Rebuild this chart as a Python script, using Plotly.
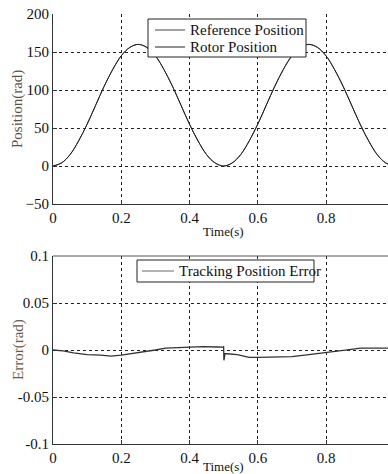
import plotly.graph_objects as go

# ---- data ----
t_pos = [0.0, 0.025, 0.05, 0.075, 0.1, 0.125, 0.15, 0.175, 0.2, 0.225, 0.25,
         0.275, 0.3, 0.325, 0.35, 0.375, 0.4, 0.425, 0.45, 0.475, 0.5,
         0.525, 0.55, 0.575, 0.6, 0.625, 0.65, 0.675, 0.7, 0.725, 0.75,
         0.775, 0.8, 0.825, 0.85, 0.875, 0.9, 0.925, 0.95, 0.975, 1.0]
ref_pos = [0, 4, 15, 33, 55, 80, 105, 127, 145, 156, 160,
           156, 145, 127, 105, 80, 55, 33, 15, 4, 0,
           4, 15, 33, 55, 80, 105, 127, 145, 156, 160,
           156, 145, 127, 105, 80, 55, 33, 15, 4, 0]
rotor_pos = [0, 4, 15, 33, 55, 80, 105, 127, 145, 156, 160,
             156, 145, 127, 105, 80, 55, 33, 15, 4, 0,
             4, 15, 33, 55, 80, 105, 127, 145, 156, 160,
             156, 145, 127, 105, 80, 55, 33, 15, 4, 0]

t_err = [0.0, 0.03, 0.06, 0.1, 0.14, 0.17, 0.2, 0.25, 0.3, 0.33, 0.37, 0.4,
         0.44, 0.48, 0.499, 0.5, 0.5008, 0.5015, 0.502, 0.504, 0.51, 0.54,
         0.575, 0.6, 0.65, 0.7, 0.75, 0.8, 0.85, 0.88, 0.9, 0.95, 1.0]
err = [0.0, -0.001, -0.003, -0.005, -0.0055, -0.0065, -0.0055, -0.003, 0.0, 0.002,
       0.0028, 0.0035, 0.0036, 0.0032, 0.003, 0.004, -0.011, 0.002, -0.009, -0.004,
       -0.004, -0.005, -0.0078, -0.0078, -0.0075, -0.007, -0.005, -0.003, -0.0005,
       0.001, 0.002, 0.002, 0.002]

series_names_top = ["Reference Position", "Rotor Position"]
series_name_bottom = "Tracking Position Error"

x_ticks = [0, 0.2, 0.4, 0.6, 0.8]
x_ticklabels = ["0", "0.2", "0.4", "0.6", "0.8"]
y1_ticks = [-50, 0, 50, 100, 150, 200]
y2_ticks = [-0.1, -0.05, 0, 0.05, 0.1]
y2_ticklabels = ["-0.1", "-0.05", "0", "0.05", "0.1"]

FONT = "Liberation Serif, Times New Roman, serif"
FS = 15
W, H = 388, 474
ML, MR, MT, MB = 53, 0, 14, 30
plot_w = W - ML - MR
plot_h = H - MT - MB
top_dom = [(H - MB - 204) / plot_h, 1.0]
bot_dom = [0.0, (H - MB - 256) / plot_h]
PX_PER_UNIT = 341.25
x_end = plot_w / PX_PER_UNIT


def P(px, py):
    """pixel position -> paper coordinates"""
    return (px - ML) / plot_w, (H - MB - py) / plot_h


fig = go.Figure()
fig.add_trace(go.Scatter(x=t_pos, y=ref_pos, mode="lines", name=series_names_top[0],
                         line=dict(color="#444444", width=1, shape="spline"),
                         xaxis="x", yaxis="y", showlegend=False))
fig.add_trace(go.Scatter(x=t_pos, y=rotor_pos, mode="lines", name=series_names_top[1],
                         line=dict(color="#222222", width=1, shape="spline"),
                         xaxis="x", yaxis="y", showlegend=False))
fig.add_trace(go.Scatter(x=t_err, y=err, mode="lines", name=series_name_bottom,
                         line=dict(color="#333333", width=1.3),
                         xaxis="x2", yaxis="y2", showlegend=False))

axis_common = dict(showline=True, linecolor="#333333", linewidth=1,
                   showgrid=True, gridcolor="#222222", gridwidth=1, griddash="3px,3px",
                   zeroline=False, ticks="inside", ticklen=4, tickcolor="#333333",
                   tickfont=dict(family=FONT, size=FS, color="#111111"))

fig.update_layout(
    width=W, height=H, margin=dict(l=ML, r=MR, t=MT, b=MB),
    paper_bgcolor="white", plot_bgcolor="white",
    font=dict(family=FONT, size=FS, color="#111111"),
    xaxis=dict(domain=[0, 1], range=[0, x_end], tickvals=x_ticks, ticktext=x_ticklabels,
               anchor="y", **axis_common),
    yaxis=dict(domain=top_dom, range=[-50, 200], tickvals=y1_ticks, anchor="x",
               **axis_common),
    xaxis2=dict(domain=[0, 1], range=[0, x_end], tickvals=x_ticks, ticktext=x_ticklabels,
                anchor="y2", **axis_common),
    yaxis2=dict(domain=bot_dom, range=[-0.1, 0.1], tickvals=y2_ticks, ticktext=y2_ticklabels,
                anchor="x2", **axis_common),
    showlegend=False,
)

# solid top border of bottom panel
fig.add_shape(type="line", xref="x2 domain", yref="y2 domain", x0=0, x1=1, y0=1, y1=1,
              line=dict(color="#555555", width=1))

# ---- legends (boxes, sample lines, labels) ----
def legend_box(x0, y0, x1, y1):
    a0, b0 = P(x0, y0)
    a1, b1 = P(x1, y1)
    fig.add_shape(type="rect", xref="paper", yref="paper", x0=a0, y0=b1, x1=a1, y1=b0,
                  line=dict(color="#222222", width=1), fillcolor="white", layer="above")


def legend_entry(lx0, lx1, ly, tx, text, color):
    a0, b = P(lx0, ly)
    a1, _ = P(lx1, ly)
    fig.add_shape(type="line", xref="paper", yref="paper", x0=a0, x1=a1, y0=b, y1=b,
                  line=dict(color=color, width=1), layer="above")
    ta, tb = P(tx, ly)
    fig.add_annotation(x=ta, y=tb, xref="paper", yref="paper", text=text, showarrow=False,
                       xanchor="left", yanchor="middle",
                       font=dict(family=FONT, size=FS, color="#111111"))


legend_box(148, 19, 306, 57)
legend_entry(155, 185, 30, 188, series_names_top[0], "#444444")
legend_entry(155, 185, 47, 188, series_names_top[1], "#222222")
legend_box(137, 260, 314, 282)
legend_entry(142, 174, 271, 177, series_name_bottom, "#666666")

# ---- axis titles ----
xc = ML + 0.5 * PX_PER_UNIT
for (px, py, txt, ang, col, fs) in [
    (xc, 231, "Time(s)", 0, "#111111", 13),
    (xc, 466, "Time(s)", 0, "#111111", 13),
    (18, 109, "Position(rad)", -90, "#5e5046", FS),
    (18, 350, "Error(rad)", -90, "#6a5848", FS),
]:
    ax, ay = P(px, py)
    fig.add_annotation(x=ax, y=ay, xref="paper", yref="paper", text=txt, showarrow=False,
                       textangle=ang, xanchor="center", yanchor="middle",
                       font=dict(family=FONT, size=fs, color=col))

fig.write_html("out.html")
